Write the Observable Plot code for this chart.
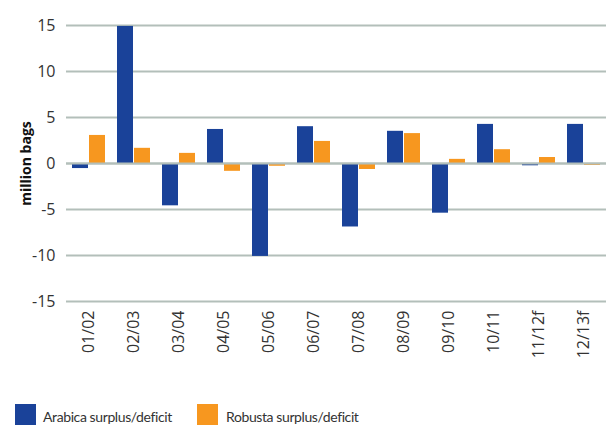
<!DOCTYPE html>
<html>
<head>
<meta charset="utf-8">
<script src="https://cdn.jsdelivr.net/npm/d3@7"></script>
<script src="https://cdn.jsdelivr.net/npm/@observablehq/plot@0.6"></script>
<style>
  html, body { margin: 0; padding: 0; background: #fff; }
  body { width: 606px; height: 425px; overflow: hidden; font-family: "Open Sans", sans-serif; position: relative; }
  #chart svg { display: block; }
  g[aria-label="y-axis label"] text { font-weight: bold; font-size: 14px; fill: #111; }
  .legend { position: absolute; left: 0; top: 404px; width: 606px; height: 21px; font-family: Lato, sans-serif; font-size: 14px; letter-spacing: -0.4px; color: #333; white-space: nowrap; }
  .legend .sw { position: absolute; top: 0; width: 21px; height: 21px; }
  .legend .lab { position: absolute; top: 2px; line-height: 21px; }
</style>
</head>
<body>
<div id="chart"></div>
<div class="legend">
  <div class="sw" style="left:15px;background:#1a4299"></div><span class="lab" style="left:43px">Arabica surplus/deficit</span>
  <div class="sw" style="left:197px;background:#f7971f"></div><span class="lab" style="left:226px">Robusta surplus/deficit</span>
</div>
<script>
const seasons = ["01/02","02/03","03/04","04/05","05/06","06/07","07/08","08/09","09/10","10/11","11/12f","12/13f"];
const arabica = [-0.55, 14.9, -4.6, 3.7, -10.1, 4.0, -6.9, 3.5, -5.4, 4.25, -0.25, 4.25];
const robusta = [3.05, 1.65, 1.1, -0.85, -0.3, 2.4, -0.65, 3.25, 0.45, 1.5, 0.65, -0.2];
const series = ["Arabica", "Robusta"];
const colors = ["#1a4299", "#f7971f"];
const yTicks = [-15, -10, -5, 0, 5, 10, 15];

const data = [];
seasons.forEach((s, i) => {
  data.push({season: s, type: series[0], value: arabica[i]});
  data.push({season: s, type: series[1], value: robusta[i]});
});

const chart = Plot.plot({
  width: 606,
  height: 395,
  marginLeft: 66,
  marginRight: 0,
  marginTop: 25,
  marginBottom: 94,
  style: {fontFamily: "'Open Sans', sans-serif", fontSize: "16px", color: "#333", background: "#fff"},
  fx: {domain: seasons, padding: 0, tickSize: 0, tickPadding: 9, tickRotate: -90, label: null},
  x: {domain: series, paddingInner: 1/18, paddingOuter: 0.278, axis: null},
  y: {domain: [-15, 15], ticks: yTicks, tickSize: 0, tickPadding: 11, tickFormat: d => String(d),
      label: "million bags", labelAnchor: "center", labelArrow: "none", labelOffset: 45},
  color: {domain: series, range: colors},
  marks: [
    Plot.gridY(yTicks, {stroke: "#b3bfba", strokeOpacity: 1, strokeWidth: 2}),
    Plot.barY(data, {fx: "season", x: "type", y: "value", fill: "type"}),
    Plot.ruleY([0], {stroke: "#b3bfba", strokeWidth: 2})
  ]
});
document.getElementById("chart").appendChild(chart);
</script>
</body>
</html>
